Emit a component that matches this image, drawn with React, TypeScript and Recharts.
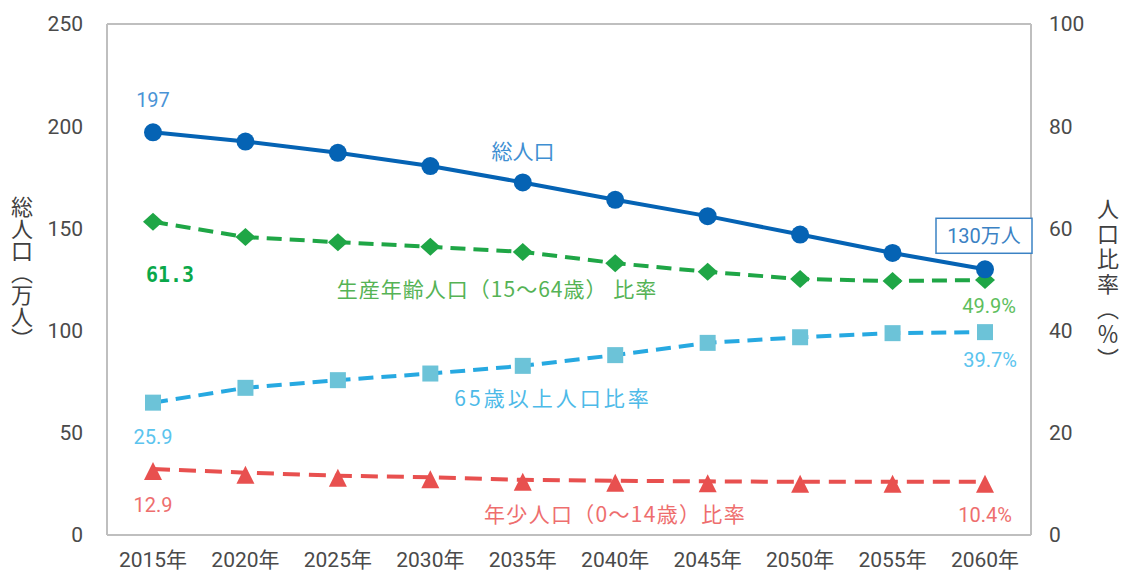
import { LineChart, Line, XAxis, YAxis, CartesianGrid, ReferenceLine, LabelList } from 'recharts';

const years = ['2015年', '2020年', '2025年', '2030年', '2035年', '2040年', '2045年', '2050年', '2055年', '2060年'];
const totalPop = [197, 192.5, 187, 180.5, 172.5, 164, 156, 147, 138, 130];
const workingRatio = [61.3, 58.3, 57.3, 56.4, 55.4, 53.2, 51.5, 50.1, 49.7, 49.9];
const elderlyRatio = [25.9, 28.8, 30.3, 31.6, 33.1, 35.2, 37.6, 38.7, 39.5, 39.7];
const youthRatio = [12.9, 12.2, 11.6, 11.3, 10.8, 10.6, 10.5, 10.4, 10.4, 10.4];
const leftTicks = [0, 50, 100, 150, 200, 250];
const rightTicks = [0, 20, 40, 60, 80, 100];

const data = years.map((year, i) => ({
  year,
  total: totalPop[i],
  working: workingRatio[i],
  elderly: elderlyRatio[i],
  youth: youthRatio[i],
}));

const LAST = years.length - 1;
const FONT = "Roboto, 'Noto Sans CJK JP', sans-serif";
const JP = "'Noto Sans CJK JP', sans-serif";

const BLUE = '#0563b4';
const GREEN = '#1fa646';
const CYAN_LINE = '#27a9e1';
const CYAN_MARK = '#6cc3d8';
const RED = '#e8504f';

const tickStyle = { fontSize: 21, fill: '#4a4a4a', fontFamily: FONT };

const CircleDot = (p: any) => (
  <circle key={`c-${p.index}`} cx={p.cx} cy={p.cy} r={9} fill={BLUE} />
);

const DiamondDot = (p: any) => (
  <path
    key={`d-${p.index}`}
    d={`M${p.cx},${p.cy - 9} L${p.cx + 10},${p.cy} L${p.cx},${p.cy + 9} L${p.cx - 10},${p.cy} Z`}
    fill={GREEN}
  />
);

const SquareDot = (p: any) => (
  <rect key={`s-${p.index}`} x={p.cx - 8} y={p.cy - 8} width={16} height={16} fill={CYAN_MARK} />
);

const TriangleDot = (p: any) => (
  <path
    key={`t-${p.index}`}
    d={`M${p.cx},${p.cy - 7} L${p.cx + 9},${p.cy + 11} L${p.cx - 9},${p.cy + 11} Z`}
    fill={RED}
  />
);

const totalLabel = (p: any) => {
  if (p.index === 0)
    return (
      <text x={p.x} y={p.y - 25} textAnchor="middle" fontSize={20} fill="#4a93d6" fontFamily={FONT}>
        {p.value}
      </text>
    );
  if (p.index === LAST)
    return (
      <g>
        <rect x={p.x - 49} y={p.y - 51} width={96} height={35} fill="#fff" stroke="#3b82c4" strokeWidth={1.5} />
        <text x={p.x - 1} y={p.y - 26} textAnchor="middle" fontSize={20} fill="#3b82c4" fontFamily={FONT}>
          {`${p.value}万人`}
        </text>
      </g>
    );
  return null;
};

const workingLabel = (p: any) => {
  if (p.index === 0)
    return (
      <text x={p.x - 7} y={p.y + 60} fontSize={22} fontWeight="bold" fill="#0aa84a" fontFamily="'DejaVu Sans Mono', monospace" textLength={48} lengthAdjust="spacingAndGlyphs">
        {p.value}
      </text>
    );
  if (p.index === LAST)
    return (
      <text x={p.x + 4} y={p.y + 33} textAnchor="middle" fontSize={20} fill="#5dbe5d" fontFamily={FONT}>
        {`${p.value}%`}
      </text>
    );
  return null;
};

const elderlyLabel = (p: any) => {
  if (p.index === 0)
    return (
      <text x={p.x} y={p.y + 41} textAnchor="middle" fontSize={20} fill="#5bc4ee" fontFamily={FONT}>
        {p.value}
      </text>
    );
  if (p.index === LAST)
    return (
      <text x={p.x + 5} y={p.y + 35} textAnchor="middle" fontSize={20} fill="#5bc4ee" fontFamily={FONT}>
        {`${p.value}%`}
      </text>
    );
  return null;
};

const youthLabel = (p: any) => {
  if (p.index === 0)
    return (
      <text x={p.x} y={p.y + 43} textAnchor="middle" fontSize={20} fill="#ee6e6e" fontFamily={FONT}>
        {p.value}
      </text>
    );
  if (p.index === LAST)
    return (
      <text x={p.x} y={p.y + 40} textAnchor="middle" fontSize={20} fill="#ee6e6e" fontFamily={FONT}>
        {`${p.value}%`}
      </text>
    );
  return null;
};

const seriesNote = (text: string, left: number, top: number, color: string, spacing: number) => (
  <div
    style={{
      position: 'absolute',
      left,
      top,
      transform: 'translate(-50%, -50%)',
      whiteSpace: 'nowrap',
      fontSize: 21,
      letterSpacing: spacing,
      fontFamily: JP,
      color,
      lineHeight: 1,
    }}
  >
    {text}
  </div>
);

export default function App() {
  return (
    <div style={{ position: 'absolute', left: 0, top: 0, width: 1127, height: 574, background: '#fff' }}>
      <LineChart width={1127} height={574} data={data} margin={{ top: 24, right: 0, left: 0, bottom: 0 }}>
        <CartesianGrid horizontal vertical={false} stroke="#d9d9d9" strokeWidth={1.5} />
        <XAxis
          dataKey="year"
          height={39}
          padding={{ left: 46, right: 46 }}
          tick={tickStyle}
          tickLine={false}
          tickSize={0}
          tickMargin={17}
          axisLine={{ stroke: '#bfbfbf', strokeWidth: 2 }}
        />
        <YAxis
          yAxisId="left"
          width={107}
          domain={[0, 250]}
          ticks={leftTicks}
          tick={tickStyle}
          tickLine={false}
          tickSize={0}
          tickMargin={24}
          axisLine={{ stroke: '#bfbfbf', strokeWidth: 2 }}
        />
        <YAxis
          yAxisId="right"
          orientation="right"
          width={96}
          domain={[0, 100]}
          ticks={rightTicks}
          tick={{ ...tickStyle, textAnchor: 'start' }}
          tickLine={false}
          tickSize={0}
          tickMargin={18}
          axisLine={{ stroke: '#bfbfbf', strokeWidth: 2 }}
        />
        <ReferenceLine yAxisId="left" y={250} stroke="#bfbfbf" strokeWidth={2} />
        <Line
          yAxisId="right"
          dataKey="youth"
          stroke={RED}
          strokeWidth={4}
          strokeDasharray="17 9"
          dot={TriangleDot}
          activeDot={false}
          isAnimationActive={false}
        >
          <LabelList dataKey="youth" content={youthLabel} />
        </Line>
        <Line
          yAxisId="right"
          dataKey="elderly"
          stroke={CYAN_LINE}
          strokeWidth={4}
          strokeDasharray="15 8"
          dot={SquareDot}
          activeDot={false}
          isAnimationActive={false}
        >
          <LabelList dataKey="elderly" content={elderlyLabel} />
        </Line>
        <Line
          yAxisId="right"
          dataKey="working"
          stroke={GREEN}
          strokeWidth={4}
          strokeDasharray="15 8"
          dot={DiamondDot}
          activeDot={false}
          isAnimationActive={false}
        >
          <LabelList dataKey="working" content={workingLabel} />
        </Line>
        <Line
          yAxisId="left"
          dataKey="total"
          stroke={BLUE}
          strokeWidth={4}
          dot={CircleDot}
          activeDot={false}
          isAnimationActive={false}
        >
          <LabelList dataKey="total" content={totalLabel} />
        </Line>
      </LineChart>

      {seriesNote('総人口', 523, 150, '#3f8fd2', 0)}
      {seriesNote('生産年齢人口（15〜64歳） 比率', 497, 288, '#55b355', 1)}
      {seriesNote('65歳以上人口比率', 553, 397, '#4dbae8', 3)}
      {seriesNote('年少人口（0〜14歳）比率', 615, 513, '#ee6e6e', 1.3)}

      <div
        style={{
          position: 'absolute',
          left: 11,
          top: 196,
          writingMode: 'vertical-rl',
          fontSize: 22,
          lineHeight: 1,
          fontFamily: JP,
          color: '#404040',
        }}
      >
        総人口（万人）
      </div>
      <div
        style={{
          position: 'absolute',
          left: 1097,
          top: 198,
          writingMode: 'vertical-rl',
          fontSize: 22,
          lineHeight: 1,
          letterSpacing: 3,
          fontFamily: JP,
          color: '#404040',
        }}
      >
        人口比率（％）
      </div>
    </div>
  );
}
